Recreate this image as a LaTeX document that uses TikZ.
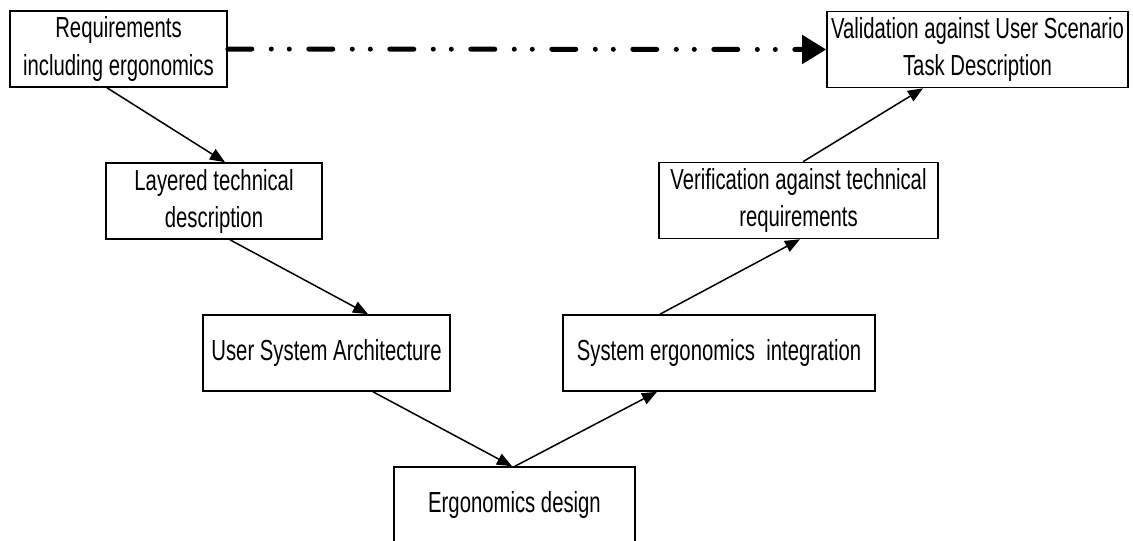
\documentclass[tikz,border=0pt]{standalone}
\usepackage{fontspec}
\setmainfont{Liberation Sans}[FakeStretch=0.70]
\usetikzlibrary{arrows.meta}

\begin{document}
\begin{tikzpicture}[x=1pt,y=-1pt,
        stage/.style={draw,line width=1.6pt,inner sep=0pt,minimum height=76pt,
            align=center,font=\fontsize{29}{37}\selectfont},
        flow/.style={line width=1.5pt,-{Triangle[length=15pt,width=12pt]}}]
    \clip (0,0) rectangle (1133,541);
    %% left
    \node[stage,minimum width=217pt] (req) at (118.5,49) {Requirements\\including ergonomics};
    \node[stage,minimum width=216pt] (layered) at (214,201) {Layered technical\\description};
    \node[stage,minimum width=247pt] (usa) at (326.5,353) {User System Architecture};
    %% bottom
    \node[stage,minimum width=241pt] (ergo) at (514.5,505) {Ergonomics design};
    %% right
    \node[stage,minimum width=312pt] (sei) at (719,353) {System ergonomics~ integration};
    \node[stage,minimum width=279pt] (verif) at (798.5,200.5) {Verification against technical\\requirements};
    \node[stage,minimum width=301pt] (valid) at (977.5,49.5) {Validation against User Scenario\\Task Description};
    %% arrows
    \draw[flow] ([xshift=-11.5pt]req.south) -- ([xshift=11pt]layered.north);
    \draw[flow] ([xshift=16pt]layered.south) -- ([xshift=41.5pt]usa.north);
    \draw[flow] ([xshift=46.5pt]usa.south) -- ([xshift=-2.5pt]ergo.north);
    \draw[flow] ([xshift=0.5pt]ergo.north) -- ([xshift=-62pt]sei.south);
    \draw[flow] ([xshift=-59pt]sei.north) -- ([xshift=1.5pt]verif.south);
    \draw[flow] ([xshift=4.5pt]verif.north) -- ([xshift=-54.5pt]valid.south);
    %% validation link
    \draw[line width=5pt,line cap=round,
        dash pattern=on 24pt off 19.5pt on 0pt off 18pt on 0pt off 19.5pt,
        -{Triangle[length=24pt,width=28pt]}] (req.east) -- (valid.west);
\end{tikzpicture}
\end{document}
